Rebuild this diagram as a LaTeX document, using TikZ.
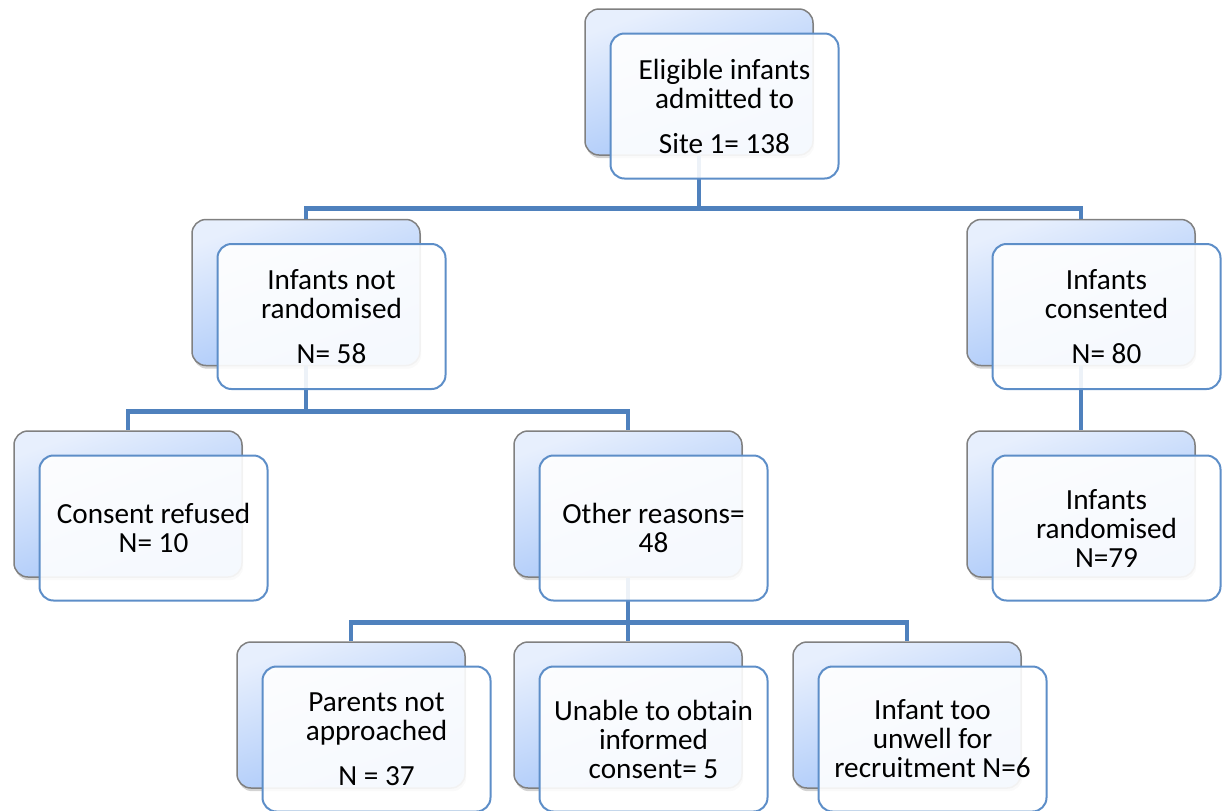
\documentclass[tikz,border=0pt]{standalone}
\usepackage{fontspec}
\setmainfont{Carlito}
\usetikzlibrary{shadows}

\definecolor{backtop}{RGB}{231,239,253}
\definecolor{backbot}{RGB}{160,194,248}
\definecolor{frontline}{RGB}{93,142,200}
\definecolor{connline}{RGB}{79,129,189}

\begin{document}
\begin{tikzpicture}
		[x=0.5pt,y=-0.5pt,
		back/.style ={rectangle, draw=black!50, line width=0.75pt, rounded corners=7pt, top color=backtop, bottom color=backbot, shading angle=20, minimum width=114pt, minimum height=73pt, drop shadow={shadow xshift=0.6pt, shadow yshift=-1.6pt, opacity=0.35}},
		front/.style ={rectangle, draw=frontline, line width=1pt, rounded corners=7pt, fill=white, fill opacity=0.9, text opacity=1, minimum width=114pt, minimum height=72.5pt, align=center, font=\fontsize{14.6}{14.5}\selectfont},
		conn/.style ={draw=connline, line width=2.3pt},
		]
		\useasboundingbox (0,0) rectangle (1224,810);

		% back boxes
		\draw (699,82) node[back] (topB) {};
		\draw (306,292.5) node[back] (notrandB) {};
		\draw (1081,292.5) node[back] (consB) {};
		\draw (128,504) node[back] (refusedB) {};
		\draw (628,504) node[back] (otherB) {};
		\draw (1081,504) node[back] (randB) {};
		\draw (351,715) node[back] (parentsB) {};
		\draw (628,715) node[back] (unableB) {};
		\draw (907,715) node[back] (unwellB) {};

		% connectors
		\draw[conn] (topB.south) -- ++(0,53) -| (notrandB.north);
		\draw[conn] (topB.south) -- ++(0,53) -| (consB.north);
		\draw[conn] (notrandB.south) -- ++(0,45) -| (refusedB.north);
		\draw[conn] (notrandB.south) -- ++(0,45) -| (otherB.north);
		\draw[conn] (consB.south) -- (randB.north);
		\draw[conn] (otherB.south) -- ++(0,45) -| (parentsB.north);
		\draw[conn] (otherB.south) -- ++(0,45) -| (unableB.north);
		\draw[conn] (otherB.south) -- ++(0,45) -| (unwellB.north);

		% front boxes
		\draw ([shift={(25.5,24)}]topB.center) node[front] (top) {Eligible infants\\admitted to\\[8pt]Site 1= 138};
		\draw ([shift={(25.5,24)}]notrandB.center) node[front] (notrand) {Infants not\\randomised\\[8pt]N= 58};
		\draw ([shift={(25.5,24)}]consB.center) node[front] (cons) {Infants\\consented\\[8pt]N= 80};
		\draw ([shift={(25.5,24)}]refusedB.center) node[front] (refused) {Consent refused\\N= 10};
		\draw ([shift={(25.5,24)}]otherB.center) node[front] (other) {Other reasons=\\48};
		\draw ([shift={(25.5,24)}]randB.center) node[front] (rand) {Infants\\randomised\\N=79};
		\draw ([shift={(25.5,24)}]parentsB.center) node[front] (parents) {Parents not\\approached\\[8pt]N = 37};
		\draw ([shift={(25.5,24)}]unableB.center) node[front] (unable) {Unable to obtain\\informed\\consent= 5};
		\draw ([shift={(25.5,24)}]unwellB.center) node[front] (unwell) {Infant too\\unwell for\\recruitment N=6};
	\end{tikzpicture}
\end{document}
